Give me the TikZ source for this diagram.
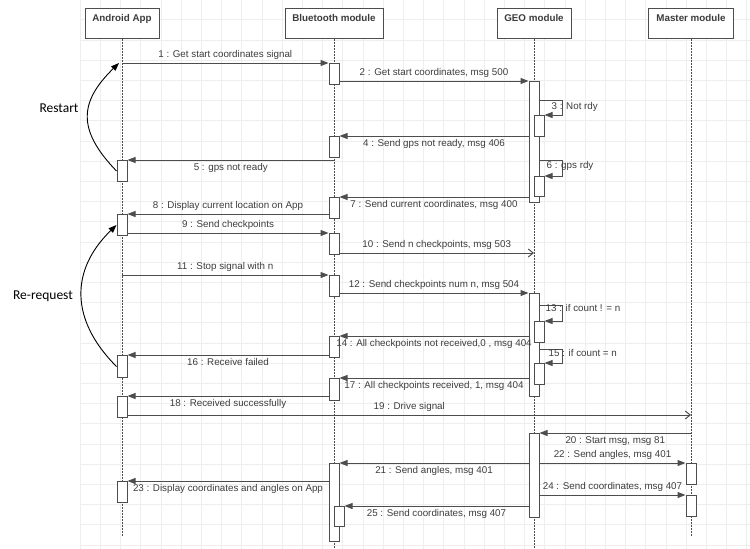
\documentclass[tikz,border=0pt]{standalone}
\usepackage{fontspec}
\setmainfont{Liberation Sans}
\newfontfamily\notefont{Carlito}
\usetikzlibrary{arrows.meta}
\definecolor{lncol}{HTML}{4D4D4D}
\definecolor{txtcol}{HTML}{3C3C3C}
\definecolor{gridcol}{HTML}{EEEEEE}

\begin{document}
\begin{tikzpicture}[x=1pt, y=-1pt,
  head/.style={draw=lncol, fill=white, line width=1pt, anchor=north, inner ysep=0pt, text height=12.5pt, text depth=17.5pt, font=\fontsize{9.8}{11}\selectfont\bfseries, text=txtcol},
  life/.style={draw=lncol, line width=1pt, dash pattern=on 1.5pt off 1.5pt},
  act/.style={draw=lncol, fill=white, line width=1pt, minimum width=10pt, inner sep=0pt, anchor=north},
  msg/.style={draw=lncol, line width=1pt, -{Triangle[length=8pt,width=6pt]}},
  async/.style={draw=lncol, line width=1pt, -{Straight Barb[length=5pt,width=8pt]}},
  lbl/.style={font=\fontsize{9.8}{11}\selectfont, text=txtcol, inner xsep=0pt, inner ysep=3pt, text height=7pt, text depth=2pt},
  loopback/.style={draw=black, line width=0.9pt, -{Triangle[length=8pt,width=6pt]}},
  note/.style={font=\notefont\fontsize{13.5}{15}\selectfont}]
\useasboundingbox (0,0) rectangle (750,549);
\foreach \i in {0,...,33}
  \draw[gridcol, line width=0.6pt] (80+\i*20.2,0) -- (80+\i*20.2,549);
\foreach \j in {0,...,26}
  \draw[gridcol, line width=0.6pt] (80,19.6+\j*20.2) -- (750,19.6+\j*20.2);

\node[head, minimum width=74pt] (app) at (122,8) {Android App};
\node[head, minimum width=98pt] (bt) at (334,8) {Bluetooth module};
\node[head, minimum width=74pt] (geo) at (534,8) {GEO module};
\node[head, minimum width=85pt] (mm) at (691,8) {Master module};
\draw[life] (app.south) -- ++(0,497);
\draw[life] (bt.south) -- ++(0,511);
\draw[life] (geo.south) -- ++(0,511);
\draw[life] (mm.south) -- ++(0,497);

\node[act, minimum height=21pt] (aa1) at (122,160) {};
\node[act, minimum height=21pt] (aa2) at (122,214) {};
\node[act, minimum height=22pt] (aa3) at (122,355) {};
\node[act, minimum height=21pt] (aa4) at (122,396) {};
\node[act, minimum height=21pt] (aa5) at (122,481) {};
\node[act, minimum height=21pt] (ba1) at (334,63) {};
\node[act, minimum height=21pt] (ba2) at (334,136) {};
\node[act, minimum height=21pt] (ba3) at (334,197) {};
\node[act, minimum height=21pt] (ba4) at (334,233) {};
\node[act, minimum height=21pt] (ba5) at (334,275) {};
\node[act, minimum height=21pt] (ba6) at (334,336) {};
\node[act, minimum height=22pt] (ba7) at (334,378) {};
\node[act, minimum height=78pt] (ba8) at (334,463) {};
\node[act, minimum height=20pt] (ba8s) at (339,506) {};
\node[act, minimum height=121pt] (ga1) at (534,81) {};
\node[act, minimum height=21pt] (ga1a) at (539,115) {};
\node[act, minimum height=20pt] (ga1b) at (539,176) {};
\node[act, minimum height=103pt] (ga2) at (534,293) {};
\node[act, minimum height=21pt] (ga2a) at (539,321) {};
\node[act, minimum height=21pt] (ga2b) at (539,363) {};
\node[act, minimum height=84pt] (ga3) at (534,433) {};
\node[act, minimum height=21pt] (ma1) at (691,463) {};
\node[act, minimum height=21pt] (ma2) at (691,495) {};

\draw[msg] (app.south |- ba1.north) -- (ba1.north west) node[lbl, midway, above] {1 : Get start coordinates signal};
\draw[msg] (ba1.east |- ga1.north) -- (ga1.north west) node[lbl, midway, above] {2 : Get start coordinates, msg 500};
\draw[msg] (ga1a.north east) ++(-5,-15) -- ++(23,0) -- ++(0,15) -- (ga1a.north east);
\path (ga1a.north east) ++(7,-8) node[lbl, anchor=west, inner ysep=0pt] {3 : Not rdy};
\draw[msg] (ga1.west |- ba2.north) -- (ba2.north east) node[lbl, midway, below] {4 : Send gps not ready, msg 406};
\draw[msg] (bt.south |- aa1.north) -- (aa1.north east) node[lbl, midway, below] {5 : gps not ready};
\draw[msg] (ga1b.north east) ++(-5,-16) -- ++(23,0) -- ++(0,16) -- (ga1b.north east);
\path (ga1b.north east) ++(2,-10) node[lbl, anchor=west, inner ysep=0pt] {6 : gps rdy};
\draw[msg] (ga1.west |- ba3.north) -- (ba3.north east) node[lbl, midway, below] {7 : Send current coordinates, msg 400};
\draw[msg] (ba3.west |- aa2.north) -- (aa2.north east) node[lbl, midway, above] {8 : Display current location on App};
\draw[msg] (aa2.east |- ba4.north) -- (ba4.north west) node[lbl, midway, above] {9 : Send checkpoints};
\draw[async] ([yshift=2pt]ba4.south east) -- ([yshift=2pt]geo.south |- ba4.south) node[lbl, midway, above] {10 : Send n checkpoints, msg 503};
\draw[msg] (app.south |- ba5.north) -- (ba5.north west) node[lbl, midway, above] {11 : Stop signal with n};
\draw[msg] (ba5.east |- ga2.north) -- (ga2.north west) node[lbl, midway, above] {12 : Send checkpoints num n, msg 504};
\draw[msg] (ga2a.north east) ++(-5,-16) -- ++(23,0) -- ++(0,16) -- (ga2a.north east);
\path (ga2a.north east) ++(1,-12) node[lbl, anchor=west, inner ysep=0pt] {13 : if count ! = n};
\draw[msg] (ga2.west |- ba6.north) -- (ba6.north east) node[lbl, midway, below] {14 : All checkpoints not received,0 , msg 404};
\draw[msg] (ga2b.north east) ++(-5,-14) -- ++(23,0) -- ++(0,14) -- (ga2b.north east);
\path (ga2b.north east) ++(4,-9) node[lbl, anchor=west, inner ysep=0pt] {15 : if count = n};
\draw[msg] (ba6.west |- aa3.north) -- (aa3.north east) node[lbl, midway, below] {16 : Receive failed};
\draw[msg] (ga2.west |- ba7.north) -- (ba7.north east) node[lbl, midway, below] {17 : All checkpoints received, 1, msg 404};
\draw[msg] (ba7.west |- aa4.north) -- (aa4.north east) node[lbl, midway, below] {18 : Received successfully};
\draw[async] ([yshift=3pt]aa4.south east) -- ([yshift=3pt]mm.south |- aa4.south) node[lbl, midway, above] {19 : Drive signal};
\draw[msg] (mm.south |- ga3.north) -- (ga3.north east) node[lbl, midway, below] {20 : Start msg, msg 81};
\draw[msg] (ga3.west |- ba8.north) -- (ba8.north east) node[lbl, midway, below] {21 : Send angles, msg 401};
\draw[msg] (ga3.east |- ma1.north) -- (ma1.north west) node[lbl, midway, above] {22 : Send angles, msg 401};
\draw[msg] (ba8.west |- aa5.north) -- (aa5.north east) node[lbl, midway, below] {23 : Display coordinates and angles on App};
\draw[msg] (ga3.east |- ma2.north) -- (ma2.north west) node[lbl, midway, above] {24 : Send coordinates, msg 407};
\draw[msg] (ga3.west |- ba8s.north) -- (ba8s.north east) node[lbl, midway, below] {25 : Send coordinates, msg 407};

\draw[loopback] (aa1.west) .. controls (77,130) and (79,102) .. ([xshift=-3pt]app.south |- ba1.north);
\draw[loopback] (aa3.west) .. controls (70,320) and (70,270) .. (aa2.west);
\node[note] (restart) at (59,108) {Restart};
\node[note] (rerequest) at (43,296) {Re-request};
\end{tikzpicture}
\end{document}
